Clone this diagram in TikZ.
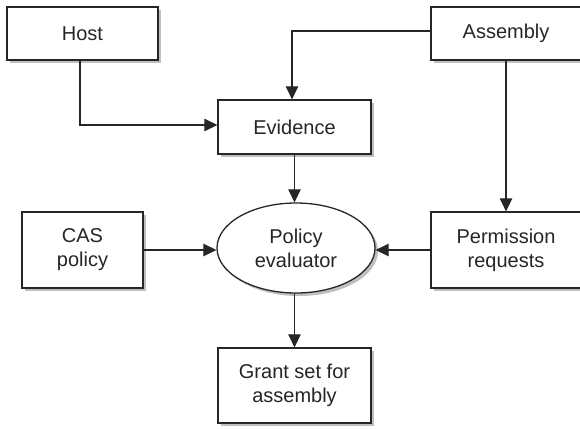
\documentclass[tikz,border=0pt]{standalone}
\usepackage{fontspec}
\setmainfont{Liberation Sans}
\usetikzlibrary{arrows.meta,shadows,shapes.geometric}
\begin{document}
\begin{tikzpicture}[x=1pt,y=-1pt,
  shade/.style={drop shadow={shadow xshift=3pt,shadow yshift=-3pt,fill=black!25,opacity=1}},
  box/.style={draw=black!85,line width=1.3pt,fill=white,shade,inner sep=0pt,
    align=center,font=\fontsize{20}{24}\selectfont,text=black!85},
  oval/.style={box,ellipse},
  conn/.style={line width=1.2pt,draw=black!85,-{Triangle[length=13pt,width=12.5pt]}}]
\useasboundingbox (0,0) rectangle (580,428);
\node[box,minimum width=151pt,minimum height=53pt] (host) at (82.5,33.5) {Host};
\node[box,minimum width=150pt,minimum height=53pt] (asm) at (506,33.5) {Assembly};
\node[box,minimum width=153pt,minimum height=54pt] (evid) at (294.5,127) {Evidence};
\node[oval,minimum width=158pt,minimum height=90pt] (pol) at (296,248) {Policy\\evaluator};
\node[box,minimum width=121pt,minimum height=76pt] (cas) at (82.5,250) {CAS\\policy};
\node[box,minimum width=150pt,minimum height=76pt] (perm) at (506,250) {Permission\\requests};
\node[box,minimum width=153pt,minimum height=75pt] (grant) at (294.5,385.5) {Grant set for\\assembly};
\coordinate (hc) at (80,125);
\coordinate (ac) at (292,31);
\draw[conn] (host.south -| hc) -- (hc) -- (evid.west |- hc);
\draw[conn] (asm.west |- ac) -- (ac) -- (evid.north -| ac);
\draw[conn] (evid.south) -- (evid.south |- pol.north);
\draw[conn] (asm.south) -- (perm.north);
\draw[conn] (cas.east) -- (pol.west |- cas.east);
\draw[conn] (perm.west) -- (pol.east |- perm.west);
\draw[conn] (pol.south -| grant.north) -- (grant.north);
\end{tikzpicture}
\end{document}
